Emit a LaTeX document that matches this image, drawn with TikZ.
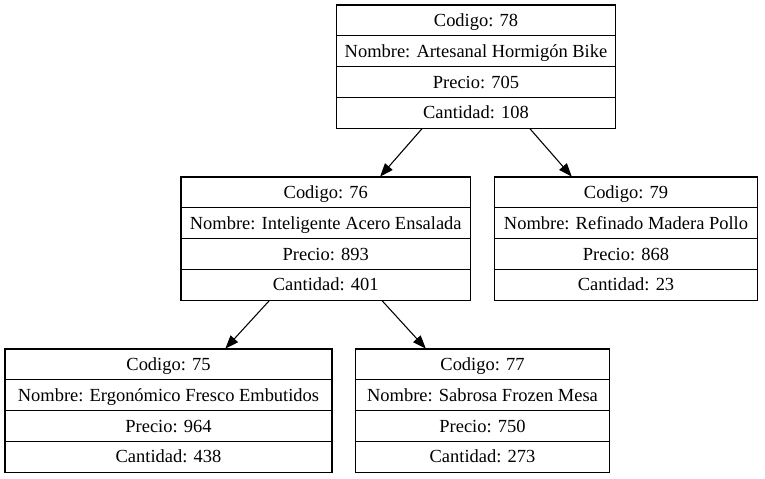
\documentclass[tikz,border=0pt]{standalone}
\usepackage{fontspec}
\setmainfont{Liberation Serif}
\usetikzlibrary{arrows.meta}
\tikzset{
  recbox/.style={draw, line width=0.8pt, inner sep=0pt, outer sep=0pt},
  rowline/.style={line width=0.8pt},
  rowtext/.style={anchor=base, inner sep=0pt, font=\fontsize{13.85}{16}\selectfont},
  edge/.style={line width=0.8pt, -{Triangle[length=10pt,width=7.5pt]}, shorten >=0.4pt}
}
% #1 name, #2 left, #3 top, #4 right, #5-#8 texts
\newcommand\recordbox[8]{%
  \pgfmathsetmacro\rl{#2}\pgfmathsetmacro\rt{#3}\pgfmathsetmacro\rr{#4}%
  \pgfmathsetmacro\rh{30.9}%
  \pgfmathsetmacro\rcx{(\rl+\rr)/2}%
  \pgfmathsetmacro\rcy{\rt+2*\rh}%
  \pgfmathsetmacro\rw{(\rr-\rl)*0.75}%
  \pgfmathsetmacro\rhh{4*\rh*0.75}%
  \node[recbox, minimum width=\rw pt, minimum height=\rhh pt] (#1) at (\rcx,\rcy) {};
  \draw[rowline] (\rl,\rt+\rh) -- (\rr,\rt+\rh);
  \draw[rowline] (\rl,\rt+2*\rh) -- (\rr,\rt+2*\rh);
  \draw[rowline] (\rl,\rt+3*\rh) -- (\rr,\rt+3*\rh);
  \node[rowtext] (#1-a) at (\rcx,\rt+0.5*\rh+5.8) {#5};
  \node[rowtext] (#1-b) at (\rcx,\rt+1.5*\rh+5.8) {#6};
  \node[rowtext] (#1-c) at (\rcx,\rt+2.5*\rh+5.8) {#7};
  \node[rowtext] (#1-d) at (\rcx,\rt+3.5*\rh+5.8) {#8};
}
\begin{document}
\begin{tikzpicture}[x=0.75pt, y=-0.75pt]
\useasboundingbox (0,0) rectangle (765,479);
\recordbox{n78}{336.5}{5}{615.5}{Codigo: 78}{Nombre: Artesanal Hormigón Bike}{Precio: 705}{Cantidad: 108}
\recordbox{n76}{181}{177}{470.5}{Codigo: 76}{Nombre: Inteligente Acero Ensalada}{Precio: 893}{Cantidad: 401}
\recordbox{n79}{494.5}{177}{757.5}{Codigo: 79}{Nombre: Refinado Madera Pollo}{Precio: 868}{Cantidad: 23}
\recordbox{n75}{5}{349}{332}{Codigo: 75}{Nombre: Ergonómico Fresco Embutidos}{Precio: 964}{Cantidad: 438}
\recordbox{n77}{355.5}{349}{609.5}{Codigo: 77}{Nombre: Sabrosa Frozen Mesa}{Precio: 750}{Cantidad: 273}
\draw[edge] (n78) -- (n76);
\draw[edge] (n78) -- (n79);
\draw[edge] (n76) -- (n75);
\draw[edge] (n76) -- (n77);
\end{tikzpicture}
\end{document}
